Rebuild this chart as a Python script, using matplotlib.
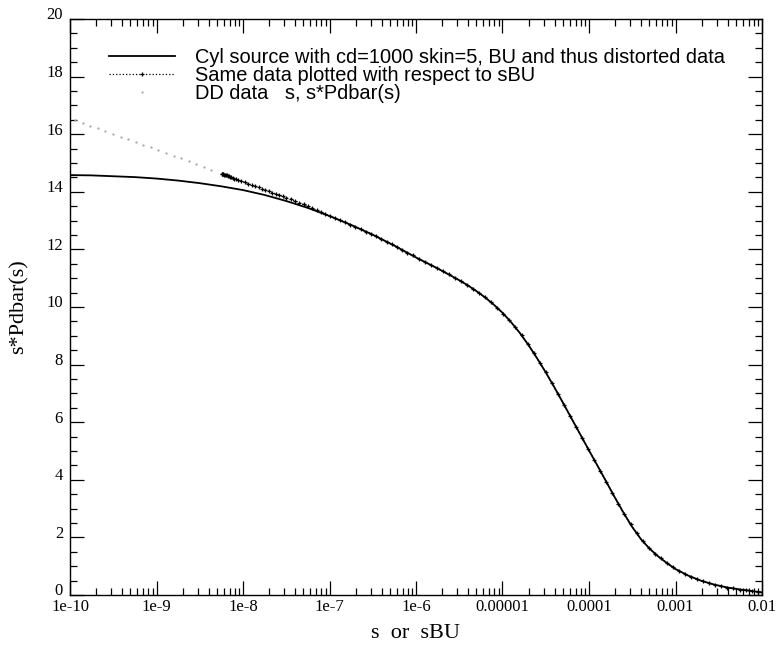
import numpy as np
from matplotlib import pyplot as plt
from matplotlib.ticker import LogLocator, MultipleLocator, FixedLocator, FixedFormatter, NullFormatter
from matplotlib.transforms import ScaledTranslation

# solid curve: cyl source, cd=1000 skin=5 (log10 s, s*Pdbar)
cyl_logs = [-10.0, -9.75, -9.5, -9.25, -9.0, -8.75, -8.5, -8.25, -8.0, -7.75, -7.5, -7.25,
            -7.0, -6.75, -6.5, -6.25, -6.0, -5.75, -5.5, -5.4, -5.3, -5.2, -5.1, -5.0,
            -4.9, -4.8, -4.7, -4.6, -4.5, -4.4, -4.3, -4.2, -4.1, -4.0, -3.9, -3.8,
            -3.7, -3.6, -3.5, -3.4, -3.3, -3.2, -3.1, -3.0, -2.85, -2.7, -2.55, -2.4,
            -2.25, -2.1, -2.0]
cyl_vals = [14.58, 14.57, 14.54, 14.51, 14.46, 14.39, 14.30, 14.19, 14.06, 13.89, 13.68, 13.44,
            13.16, 12.85, 12.51, 12.13, 11.72, 11.34, 10.93, 10.75, 10.55, 10.33, 10.08, 9.80,
            9.47, 9.10, 8.68, 8.22, 7.73, 7.21, 6.67, 6.12, 5.57, 5.02, 4.48, 3.93,
            3.38, 2.85, 2.36, 1.94, 1.61, 1.34, 1.11, 0.90, 0.67, 0.49, 0.36, 0.26,
            0.19, 0.13, 0.09]

# same data vs sBU
sbu_logs = [-8.246, -8.241, -8.235, -8.228, -8.220, -8.211, -8.201, -8.190, -8.178, -8.165,
            -8.151, -8.136, -8.120, -8.103, -8.085,
            -8.06, -8.02, -7.98, -7.94, -7.90, -7.86, -7.82, -7.78, -7.74, -7.70, -7.66,
            -7.62, -7.58, -7.54, -7.50, -7.45, -7.40, -7.35, -7.30, -7.25, -7.20, -7.15,
            -7.10, -7.05, -7.00,
            -6.94, -6.88, -6.82, -6.76, -6.70, -6.64, -6.58, -6.52, -6.46, -6.40, -6.34,
            -6.28, -6.22, -6.16, -6.10, -6.04, -5.97, -5.90, -5.83, -5.76, -5.69, -5.62,
            -5.55, -5.48, -5.41, -5.34, -5.27, -5.20, -5.13, -5.06, -4.99, -4.92, -4.85,
            -4.78, -4.71, -4.64, -4.57, -4.50, -4.43, -4.36, -4.29, -4.22, -4.15, -4.08,
            -4.01, -3.94, -3.87, -3.80, -3.73, -3.66, -3.59, -3.52, -3.45, -3.38, -3.31,
            -3.24, -3.17, -3.10, -3.03, -2.96, -2.89, -2.82, -2.75, -2.68, -2.61, -2.54,
            -2.47, -2.40, -2.33, -2.26, -2.19, -2.12, -2.05, -2.00]
sbu_vals = [14.63, 14.62, 14.62, 14.61, 14.60, 14.59, 14.58, 14.57, 14.55, 14.54,
            14.52, 14.50, 14.48, 14.46, 14.44,
            14.42, 14.37, 14.33, 14.28, 14.24, 14.19, 14.15, 14.11, 14.06, 14.02, 13.97,
            13.93, 13.88, 13.84, 13.79, 13.74, 13.68, 13.62, 13.56, 13.50, 13.43, 13.36,
            13.30, 13.23, 13.16,
            13.09, 13.01, 12.94, 12.86, 12.78, 12.70, 12.62, 12.54, 12.45, 12.36, 12.27,
            12.18, 12.08, 11.98, 11.88, 11.79, 11.67, 11.57, 11.46, 11.35, 11.24, 11.13,
            11.01, 10.89, 10.77, 10.63, 10.48, 10.33, 10.16, 9.97, 9.77, 9.54, 9.29,
            9.02, 8.72, 8.41, 8.07, 7.73, 7.37, 6.99, 6.61, 6.23, 5.84, 5.46,
            5.07, 4.70, 4.32, 3.93, 3.55, 3.17, 2.80, 2.45, 2.15, 1.87, 1.64,
            1.44, 1.27, 1.11, 0.96, 0.84, 0.73, 0.63, 0.55, 0.47, 0.41, 0.35,
            0.31, 0.26, 0.23, 0.19, 0.17, 0.14, 0.11, 0.09]

# DD data (s, s*Pdbar(s)), visible part left of the sBU data
dd_logs = [-9.94, -9.853, -9.765, -9.678, -9.59, -9.503, -9.415, -9.328, -9.24, -9.153,
           -9.065, -8.978, -8.89, -8.803, -8.715, -8.628, -8.54, -8.453, -8.365]
dd_vals = [16.49, 16.39, 16.30, 16.20, 16.11, 16.01, 15.92, 15.82, 15.73, 15.63,
           15.54, 15.44, 15.35, 15.25, 15.16, 15.06, 14.96, 14.87, 14.77]

xtick_vals = [1e-10, 1e-9, 1e-8, 1e-7, 1e-6, 1e-5, 1e-4, 1e-3, 1e-2]
xtick_labels = ['1e-10', '1e-9', '1e-8', '1e-7', '1e-6', '0.00001', '0.0001', '0.001', '0.01']

fig = plt.figure(figsize=(7.79, 6.49), dpi=100)
ax = fig.add_axes([70/779, 1 - 595/649, 692/779, 576/649])

ax.plot(10.0**np.array(cyl_logs), cyl_vals, '-', color='black', lw=1.3,
        label='Cyl source with cd=1000 skin=5, BU and thus distorted data')
ax.plot(10.0**np.array(sbu_logs), sbu_vals, ':', color='black', lw=0.9,
        marker='+', ms=3.5, mew=0.9, label='Same data plotted with respect to sBU')
ax.plot(10.0**np.array(dd_logs), dd_vals, linestyle='none', marker='.', ms=1.3,
        color='#a8a8a8', label='DD data   s, s*Pdbar(s)')

ax.set_xscale('log')
ax.set_xlim(1e-10, 1e-2)
ax.set_ylim(0, 20)
ax.xaxis.set_major_locator(FixedLocator(xtick_vals))
ax.xaxis.set_major_formatter(FixedFormatter(xtick_labels))
ax.xaxis.set_minor_locator(LogLocator(base=10, subs=np.arange(2, 10), numticks=20))
ax.xaxis.set_minor_formatter(NullFormatter())
ax.yaxis.set_major_locator(MultipleLocator(2))
ax.yaxis.set_minor_locator(MultipleLocator(0.5))

ax.tick_params(which='both', direction='in', top=True, right=True, width=0.9)
ax.tick_params(which='major', length=10)
ax.tick_params(which='minor', length=5)
ax.tick_params(axis='x', pad=3)
ax.tick_params(axis='y', pad=5)
for lab in ax.get_xticklabels() + ax.get_yticklabels():
    lab.set_fontfamily('Liberation Serif')
    lab.set_fontsize(12)
# y labels sit a little above their ticks
for lab in ax.get_yticklabels():
    lab.set_transform(lab.get_transform() + ScaledTranslation(0, 4/72, fig.dpi_scale_trans))
for sp in ax.spines.values():
    sp.set_linewidth(1.0)

ax.set_xlabel('s  or  sBU', family='Liberation Serif', fontsize=16, labelpad=6)
ax.set_ylabel('s*Pdbar(s)', family='Liberation Serif', fontsize=16, labelpad=13)

ax.legend(loc='upper left', bbox_to_anchor=(0.045, 0.963), frameon=False,
          prop={'family': 'Liberation Sans', 'size': 14.4}, handlelength=3.3,
          handletextpad=1.0, labelspacing=-0.05, numpoints=1, borderaxespad=0)

fig.savefig('out.png', dpi=100)
